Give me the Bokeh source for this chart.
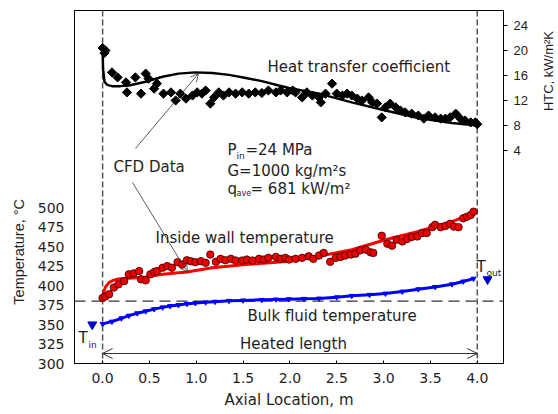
import math
from bokeh.plotting import figure
from bokeh.layouts import row
from bokeh.models import (Range1d, LinearAxis, FixedTicker, Label, Arrow, OpenHead, Span)
from bokeh.core.properties import value
from bokeh.embed import file_html
from bokeh.resources import INLINE

# ---------------- data ----------------
htc_exp_x = [0.00, 0.02, 0.03, 0.10, 0.16, 0.25, 0.26, 0.35, 0.41, 0.46, 0.49, 0.55, 0.58, 0.65,
             0.73, 0.78, 0.83, 0.89, 0.96, 1.01, 1.06, 1.10, 1.15, 1.19, 1.24, 1.29, 1.35, 1.42,
             1.49, 1.56, 1.63, 1.70, 1.77, 1.85, 1.90, 1.97, 2.03, 2.06, 2.13, 2.18, 2.24, 2.31,
             2.33, 2.38, 2.45, 2.50, 2.56, 2.61, 2.66, 2.72, 2.77, 2.84, 2.88, 2.93, 2.98, 3.02,
             3.07, 3.13, 3.18, 3.23, 3.30, 3.37, 3.43, 3.48, 3.55, 3.61, 3.66, 3.71, 3.77, 3.82,
             3.87, 3.93, 3.98, 4.00]
htc_exp = [20.4, 19.6, 20.0, 16.5, 15.7, 14.9, 13.3, 15.7, 13.1, 16.3, 15.5, 13.9, 14.7, 13.1,
           13.3, 12.0, 13.1, 12.3, 12.8, 13.3, 13.1, 13.6, 11.5, 12.5, 13.3, 12.8, 13.3, 13.1,
           13.3, 13.1, 13.3, 13.2, 13.6, 13.3, 13.6, 13.3, 13.6, 13.3, 12.5, 13.3, 12.8, 12.5,
           11.7, 13.1, 14.7, 13.1, 12.8, 13.1, 12.8, 12.3, 12.0, 12.5, 11.7, 11.5, 9.3, 10.9,
           11.5, 10.9, 10.4, 10.1, 9.9, 9.6, 9.1, 9.6, 9.3, 9.1, 9.1, 9.3, 9.9, 9.1,
           8.8, 8.5, 8.5, 8.2]

htc_cfd_x = [0.00, 0.005, 0.02, 0.05, 0.10, 0.19, 0.28, 0.46, 0.64, 0.81, 0.99, 1.17, 1.35,
             1.53, 1.70, 1.88, 1.99, 2.31, 2.66, 3.02, 3.37, 3.73, 4.00]
htc_cfd = [20.3, 17.0, 15.0, 14.5, 14.3, 14.3, 14.4, 15.0, 15.8, 16.3, 16.5, 16.4, 16.1,
           15.6, 15.1, 14.4, 14.0, 13.1, 11.7, 10.4, 9.2, 8.4, 8.0]

wall_exp_x = [0.00, 0.03, 0.07, 0.12, 0.17, 0.23, 0.28, 0.33, 0.39, 0.41, 0.46, 0.51, 0.55, 0.58,
              0.64, 0.69, 0.74, 0.80, 0.85, 0.90, 0.94, 0.99, 1.05, 1.10, 1.15, 1.21, 1.26, 1.31,
              1.37, 1.42, 1.49, 1.54, 1.60, 1.67, 1.72, 1.77, 1.85, 1.90, 1.95, 1.99, 2.06, 2.13,
              2.20, 2.25, 2.31, 2.36, 2.43, 2.49, 2.54, 2.59, 2.65, 2.70, 2.75, 2.81, 2.86, 2.89,
              2.98, 3.04, 3.09, 3.14, 3.20, 3.25, 3.30, 3.36, 3.41, 3.46, 3.52, 3.55, 3.61, 3.66,
              3.71, 3.75, 3.80, 3.85, 3.89, 3.93, 3.96]
wall_exp = [384.0, 386.0, 389.0, 397.5, 401.6, 405.8, 414.4, 415.6, 418.6, 408.0, 406.7, 414.4,
            417.3, 418.6, 422.9, 425.0, 422.9, 430.0, 427.0, 432.5, 431.3, 430.0, 431.3, 429.2,
            439.8, 430.5, 434.3, 432.5, 434.3, 432.1, 432.1, 433.4, 432.1, 434.3, 433.4, 435.6,
            436.8, 434.3, 435.6, 433.4, 434.3, 435.6, 437.6, 434.3, 438.5, 441.9, 430.5, 435.6,
            436.8, 438.5, 439.8, 441.0, 445.2, 446.1, 442.7, 441.9, 463.9, 453.7, 451.2, 458.8,
            456.7, 459.7, 462.3, 463.1, 467.4, 467.4, 475.0, 477.9, 475.0, 476.6, 479.2, 475.7,
            475.0, 486.4, 488.4, 490.6, 494.8]

wall_cfd_x = [0.00, 0.01, 0.03, 0.07, 0.12, 0.17, 0.28, 0.46, 0.64, 0.90, 1.17, 1.53, 1.99,
              2.31, 2.66, 3.02, 3.37, 3.73, 4.00]
wall_cfd = [383.0, 391.0, 398.0, 404.0, 407.0, 408.5, 409.5, 411.0, 414.4, 417.3, 422.9, 427.0,
            431.3, 437.6, 446.0, 458.8, 469.4, 482.0, 495.0]

bulk_x = [0.00, 0.10, 0.20, 0.28, 0.37, 0.46, 0.55, 0.64, 0.72, 0.81, 0.90, 0.99, 1.10, 1.20,
          1.35, 1.50, 1.70, 1.85, 1.99, 2.15, 2.31, 2.50, 2.66, 2.85, 3.02, 3.20, 3.37, 3.55,
          3.73, 3.85, 3.96]
bulk_T = [350.8, 353.8, 358.0, 361.4, 364.5, 367.0, 369.8, 372.0, 373.7, 375.0, 376.5, 377.5,
          378.5, 379.3, 380.4, 381.0, 381.7, 382.2, 382.6, 383.0, 383.4, 385.0, 386.8, 388.2,
          389.8, 392.3, 395.3, 398.3, 401.7, 405.3, 408.9]

inout_x = [-0.11, 4.11]
inout_T = [350.0, 408.0]

heated_start, heated_end = 0.0, 4.0
pseudo_critical_T = 380.0

x_ticks = [0.0, 0.5, 1.0, 1.5, 2.0, 2.5, 3.0, 3.5, 4.0]
t_ticks = [300, 325, 350, 375, 400, 425, 450, 475, 500]
htc_ticks = [4, 8, 12, 16, 20, 24]

# ---------------- layout geometry ----------------
W, H = 558, 414
LW, RW = 30, 22               # side strips holding the rotated axis titles
MW = W - LW - RW              # main figure width
L, R, TOP, BOT = 74 - LW, 55 - RW, 10, 51
FW, FH = MW - L - R, H - TOP - BOT

X0, X1 = -0.3, 4.28
T0, T1 = 300.0, 753.0
H0, H1 = -30.08, 26.4

def sx(px):
    return X0 + (px - 74) * (X1 - X0) / FW

def sy(py):
    return T0 + (TOP + FH - py) * (T1 - T0) / FH

p = figure(width=MW, height=H, x_range=Range1d(X0, X1), y_range=Range1d(T0, T1),
           min_border_left=L, min_border_right=R, min_border_top=TOP, min_border_bottom=BOT,
           output_backend="svg", toolbar_location=None)
p.extra_y_ranges = {"htc": Range1d(H0, H1)}
p.xgrid.visible = False
p.ygrid.visible = False
p.outline_line_color = "black"
p.outline_line_width = 1
p.background_fill_color = "white"
p.border_fill_color = "white"

TICK_FONT = "DejaVu Sans"
ink = "#1e1e1e"

xa = p.xaxis[0]
xa.ticker = FixedTicker(ticks=x_ticks)
xa.major_label_overrides = {v: f"{v:.1f}" for v in x_ticks}
xa.major_tick_in = 3
xa.major_tick_out = 0
xa.minor_tick_line_color = None
xa.major_label_text_font = TICK_FONT
xa.major_label_text_font_size = "14px"
xa.major_label_text_color = ink
xa.major_label_standoff = 9
xa.axis_label = "Axial Location, m"
xa.axis_label_text_font = TICK_FONT
xa.axis_label_text_font_size = "15px"
xa.axis_label_text_font_style = "normal"
xa.axis_label_text_color = ink
xa.axis_label_standoff = 5
xa.axis_line_color = "black"

ya = p.yaxis[0]
ya.ticker = FixedTicker(ticks=t_ticks)
ya.major_tick_in = 0
ya.major_tick_out = 0
ya.minor_tick_line_color = None
ya.major_label_text_font = TICK_FONT
ya.major_label_text_font_size = "14px"
ya.major_label_text_color = ink
ya.major_label_standoff = 10
ya.axis_line_color = "black"

ra = LinearAxis(y_range_name="htc", ticker=FixedTicker(ticks=htc_ticks))
ra.major_tick_in = 0
ra.major_tick_out = 4
ra.minor_tick_line_color = None
ra.major_label_text_font = "Liberation Sans"
ra.major_label_text_font_size = "13px"
ra.major_label_text_color = ink
ra.major_label_standoff = 6
ra.axis_line_color = "black"
p.add_layout(ra, "right")

# reference lines
for loc in (heated_start, heated_end):
    p.add_layout(Span(location=loc, dimension="height", line_color="#555555",
                      line_width=1.5, line_dash="6 3", level="underlay"))
p.add_layout(Span(location=pseudo_critical_T, dimension="width", line_color="#333333",
                  line_width=1.2, line_dash="11 6", level="underlay"))

# HTC
p.line(htc_cfd_x, htc_cfd, y_range_name="htc", line_color="black", line_width=2.5)
p.scatter(htc_exp_x, htc_exp, y_range_name="htc", marker="square", angle=math.pi / 4,
          size=6.5, fill_color="black", line_color="black")

# wall temperature
p.line(wall_cfd_x, wall_cfd, line_color="#ff0000", line_width=3)
p.scatter(wall_exp_x, wall_exp, marker="circle", size=7.5, fill_color="#ee0000",
          line_color="#330000", line_width=0.8)

# bulk temperature
p.line(bulk_x, bulk_T, line_color="#0000ff", line_width=3)
p.scatter(bulk_x, bulk_T, marker="inverted_triangle", size=5, fill_color="#0000ff",
          line_color="#0000ff")
p.scatter(inout_x, inout_T, marker="inverted_triangle", size=9, fill_color="#0000cc",
          line_color="#0000cc")

# ---------------- annotations ----------------
TXT = "DejaVu Sans"

def lab(text, px, py, size="15px", font=TXT, align="left"):
    p.add_layout(Label(x=sx(px), y=sy(py), text=text, text_font=font, text_font_size=size,
                       text_color=ink, text_align=align, text_baseline="middle"))

lab("Heat transfer coefficient", 267, 66)
lab("P", 227, 149)
lab("in", 236, 155, size="9px")
lab("=24 MPa", 245, 149)
lab("G=1000 kg/m\u00b2s", 227, 170)
lab("q", 227, 188)
lab("ave", 236, 193, size="8px")
lab("= 681 kW/m\u00b2", 250, 188)
lab("CFD Data", 113, 166)
lab("Inside wall temperature", 155, 237)
lab("Bulk fluid temperature", 247, 315)
lab("Heated length", 293, 343, align="center")
lab("T", 78, 337)
lab("in", 88, 344, size="9px")
lab("T", 476, 266)
lab("out", 486, 272, size="9px")

arrow_col = "#333333"
p.add_layout(Arrow(end=OpenHead(size=8, line_width=0.8, line_color=arrow_col),
                   x_start=sx(135), y_start=sy(148), x_end=sx(198), y_end=sy(73),
                   line_width=0.8, line_color=arrow_col))
p.add_layout(Arrow(end=OpenHead(size=8, line_width=0.8, line_color=arrow_col),
                   x_start=sx(132), y_start=sy(182), x_end=sx(187), y_end=sy(272),
                   line_width=0.8, line_color=arrow_col))
p.add_layout(Arrow(start=OpenHead(size=10, line_width=1, line_color=arrow_col),
                   end=OpenHead(size=10, line_width=1, line_color=arrow_col),
                   x_start=heated_start, y_start=sy(353), x_end=heated_end, y_end=sy(353),
                   line_width=1, line_color=arrow_col))

# ---------------- side strips with the rotated axis titles ----------------
def strip(width, text, cx, cy, size):
    f = figure(width=width, height=H, x_range=Range1d(0, width), y_range=Range1d(0, H),
               min_border=0, min_border_left=0, min_border_right=0, min_border_top=0,
               min_border_bottom=0, x_axis_location=None, y_axis_location=None,
               output_backend="svg", toolbar_location=None)
    f.outline_line_color = None
    f.background_fill_color = "white"
    f.border_fill_color = "white"
    for g in f.grid:
        g.visible = False
    f.text(x=[cx], y=[H - cy], text=[text], angle=math.pi / 2,
           text_font=value("Liberation Sans"), text_font_size=value(size),
           text_color=ink, text_align="center", text_baseline="middle")
    return f

left_strip = strip(LW, "Temperature, \u00b0C", 18, 283, "14.5px")
right_strip = strip(RW, "HTC, kW/m\u00b2K", 548 - (W - RW), 71, "13px")

layout = row(left_strip, p, right_strip, spacing=0)
open("out.html", "w").write(file_html(layout, INLINE))
